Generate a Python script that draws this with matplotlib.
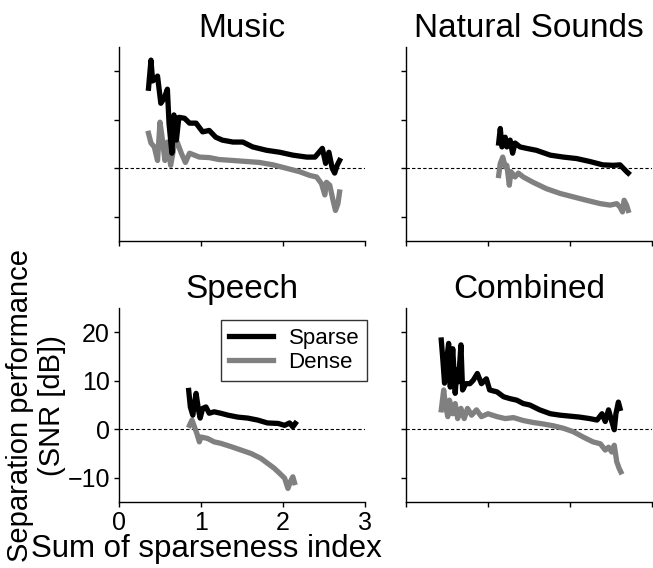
import matplotlib
matplotlib.use("Agg")
import matplotlib.pyplot as plt

plt.rcParams['font.family'] = ['Liberation Sans', 'DejaVu Sans']

# Values (x = sum of sparseness index, y = SNR in dB)
music_sparse_x = [0.36, 0.39, 0.41, 0.45, 0.47, 0.51, 0.55, 0.59, 0.61, 0.645, 0.67, 0.70, 0.73,
                  0.80, 0.86, 0.94, 1.02, 1.10, 1.18, 1.26, 1.39, 1.51, 1.63, 1.80, 1.96, 2.12,
                  2.29, 2.39, 2.48, 2.52, 2.56, 2.60, 2.63, 2.66, 2.69]
music_sparse_y = [16.5, 22.3, 18.0, 18.5, 19.0, 13.4, 14.4, 16.3, 9.3, 3.1, 11.0, 5.8, 10.5,
                  10.3, 9.3, 9.3, 7.5, 7.8, 6.4, 5.8, 5.4, 5.4, 4.4, 3.7, 3.3, 2.7,
                  2.3, 2.3, 4.1, 1.0, 3.3, 0.0, -1.0, 0.6, 1.6]
music_dense_x = [0.36, 0.39, 0.43, 0.47, 0.50, 0.53, 0.56, 0.59, 0.63, 0.67, 0.71, 0.76, 0.81,
                 0.86, 0.92, 0.98, 1.10, 1.22, 1.39, 1.55, 1.71, 1.88, 2.04, 2.20, 2.33, 2.41,
                 2.47, 2.51, 2.53, 2.57, 2.61, 2.64, 2.67, 2.69]
music_dense_y = [7.2, 5.2, 4.4, 1.6, 9.5, 5.8, 1.6, 5.4, 0.6, 4.4, 5.4, 3.1, 1.2,
                 3.1, 2.7, 2.3, 2.2, 1.8, 1.6, 1.4, 1.2, 0.7, 0.0, -0.7, -1.5, -1.8,
                 -3.2, -5.5, -2.9, -3.5, -6.6, -8.7, -7.3, -4.9]

nature_sparse_x = [1.13, 1.15, 1.17, 1.21, 1.23, 1.27, 1.30, 1.33, 1.39, 1.47, 1.59, 1.76, 1.92,
                   2.08, 2.24, 2.40, 2.53, 2.61, 2.65, 2.69, 2.71]
nature_sparse_y = [5.2, 8.2, 4.4, 6.4, 4.4, 5.8, 3.1, 5.2, 4.4, 4.1, 3.7, 2.7, 2.3,
                   2.0, 1.4, 0.7, 0.6, 0.7, 0.0, -0.7, -1.0]
nature_dense_x = [1.13, 1.15, 1.18, 1.21, 1.23, 1.26, 1.28, 1.33, 1.37, 1.43, 1.55, 1.71, 1.88,
                  2.04, 2.20, 2.37, 2.49, 2.57, 2.61, 2.64, 2.66, 2.69, 2.71]
nature_dense_y = [-1.5, 1.0, 2.3, 0.3, 0.6, -3.5, -0.7, -1.8, -1.0, -1.8, -2.9, -4.2, -5.2,
                  -5.9, -6.6, -7.3, -7.6, -7.3, -8.0, -9.0, -6.6, -7.6, -8.7]

speech_sparse_x = [0.85, 0.87, 0.90, 0.92, 0.94, 0.97, 0.99, 1.02, 1.06, 1.10, 1.16, 1.24, 1.33,
                   1.45, 1.57, 1.69, 1.81, 1.94, 2.02, 2.08, 2.12, 2.15]
speech_sparse_y = [8.0, 4.6, 2.9, 5.3, 7.4, 3.9, 2.3, 4.3, 4.6, 3.3, 3.6, 3.3, 2.9,
                   2.5, 2.3, 1.9, 1.3, 1.2, 0.8, 1.3, 0.5, 1.2]
speech_dense_x = [0.86, 0.89, 0.92, 0.95, 0.98, 1.00, 1.08, 1.16, 1.24, 1.37, 1.49, 1.61, 1.73,
                  1.81, 1.89, 1.96, 2.02, 2.06, 2.09, 2.12, 2.14]
speech_dense_y = [0.8, 1.9, 0.5, -0.9, -2.6, -1.6, -1.9, -2.6, -2.9, -3.6, -4.3, -5.0, -6.0,
                  -7.0, -8.0, -9.1, -10.1, -12.2, -10.8, -9.8, -11.0]

combined_sparse_x = [0.43, 0.45, 0.47, 0.50, 0.52, 0.54, 0.57, 0.60, 0.62, 0.64, 0.67, 0.69, 0.73,
                     0.78, 0.82, 0.87, 0.92, 0.98, 1.02, 1.11, 1.19, 1.27, 1.35, 1.43, 1.51, 1.63,
                     1.76, 1.88, 2.00, 2.12, 2.24, 2.33, 2.39, 2.43, 2.47, 2.51, 2.54, 2.56, 2.59, 2.61]
combined_sparse_y = [18.4, 14.2, 9.5, 14.9, 17.7, 8.7, 16.6, 7.4, 12.2, 9.8, 17.4, 8.1, 9.4,
                     9.4, 10.1, 11.5, 9.4, 10.4, 8.1, 7.7, 6.7, 6.3, 6.0, 5.3, 5.0, 4.0,
                     3.2, 2.9, 2.7, 2.5, 2.2, 1.9, 3.2, 1.6, 4.0, 1.6, -0.1, 3.2, 5.6, 4.3]
combined_dense_x = [0.43, 0.46, 0.48, 0.51, 0.53, 0.57, 0.60, 0.63, 0.67, 0.71, 0.75, 0.80, 0.86,
                    0.92, 1.00, 1.11, 1.21, 1.31, 1.43, 1.55, 1.67, 1.80, 1.92, 2.04, 2.16, 2.28,
                    2.37, 2.43, 2.47, 2.51, 2.54, 2.57, 2.60, 2.62]
combined_dense_y = [4.0, 8.1, 5.0, 2.6, 6.0, 3.2, 5.3, 2.2, 4.3, 2.2, 4.3, 2.9, 4.0,
                    2.6, 3.2, 2.6, 2.2, 2.4, 1.8, 1.4, 1.1, 0.7, 0.2, -0.5, -1.6, -2.6,
                    -3.0, -4.3, -3.7, -4.7, -3.3, -6.7, -8.1, -8.8]

titles = ['Music', 'Natural Sounds', 'Speech', 'Combined']
xticks = [0, 1, 2, 3]
yticks = [-10, 0, 10, 20]

panels = [
    (music_sparse_x, music_sparse_y, music_dense_x, music_dense_y),
    (nature_sparse_x, nature_sparse_y, nature_dense_x, nature_dense_y),
    (speech_sparse_x, speech_sparse_y, speech_dense_x, speech_dense_y),
    (combined_sparse_x, combined_sparse_y, combined_dense_x, combined_dense_y),
]

W, H = 653, 568
fig = plt.figure(figsize=(W / 100, H / 100), dpi=100)

# axes boxes in pixels: left, top, right, bottom
boxes = [(119, 47, 365, 241), (406, 47, 652, 241),
         (119, 308, 365, 502), (406, 308, 652, 502)]

axes = []
for i, (l, t, r, b) in enumerate(boxes):
    ax = fig.add_axes([l / W, 1 - b / H, (r - l) / W, (b - t) / H])
    sx, sy, dx, dy = panels[i]
    ax.axhline(0, color='black', lw=0.8, ls=(0, (3, 2)), zorder=1)
    ax.plot(sx, sy, color='black', lw=3.8, label='Sparse', zorder=3,
            solid_joinstyle='round')
    ax.plot(dx, dy, color='#808080', lw=3.8, label='Dense', zorder=2,
            solid_joinstyle='round')
    ax.set_xlim(0, 3)
    ax.set_ylim(-15, 25)
    ax.set_xticks(xticks)
    ax.set_yticks(yticks)
    ax.spines['top'].set_visible(False)
    ax.spines['right'].set_visible(False)
    ax.spines['left'].set_linewidth(1.0)
    ax.spines['bottom'].set_linewidth(1.0)
    ax.tick_params(direction='out', length=3.6, width=1.0, labelsize=18, pad=3)
    if i != 2:
        ax.set_xticklabels([])
        ax.set_yticklabels([])
    ax.set_title(titles[i], fontsize=24, pad=7)
    axes.append(ax)

leg = axes[2].legend(loc='upper right', bbox_to_anchor=(367 / W, 1 - 320 / H),
                     bbox_transform=fig.transFigure, borderaxespad=0,
                     fontsize=16, handlelength=2.0, handletextpad=0.7,
                     labelspacing=0.15, borderpad=0.35, fancybox=False)
leg.get_frame().set_edgecolor('black')
leg.get_frame().set_linewidth(1.0)

fig.text(206 / W, 1 - 549 / H, 'Sum of sparseness index', fontsize=22.5,
         ha='center', va='center')
fig.text(36 / W, 1 - 406 / H, 'Separation performance\n(SNR [dB])', fontsize=21,
         ha='center', va='center', rotation=90, linespacing=1.15)

fig.savefig('out.png', dpi=100)
